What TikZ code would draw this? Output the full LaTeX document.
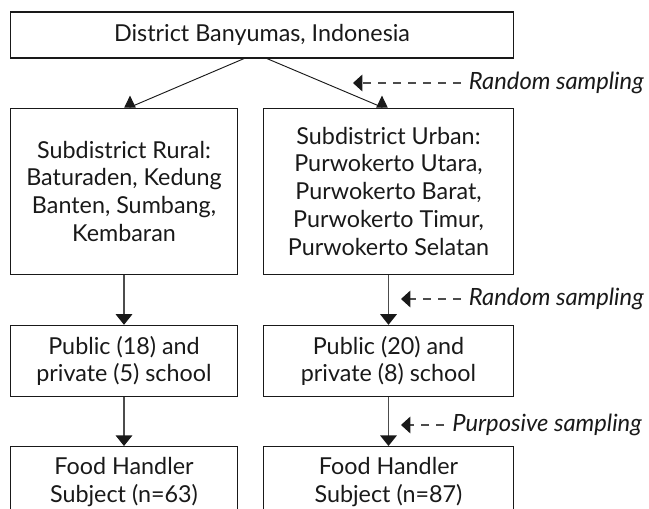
\documentclass[tikz,border=0pt]{standalone}
\usepackage{fontspec}
\setmainfont{Lato}
\usetikzlibrary{positioning}
\usetikzlibrary{arrows.meta}

\begin{document}
\begin{tikzpicture} [
    x=0.75pt, y=-0.75pt,
    every node/.style = {font=\fontsize{17.5}{20.8}\selectfont, text=black!90},
    box/.style = {draw=black!90, line width=0.9pt, align=center, inner sep=0pt},
    lcol/.style = {box, minimum width=170.25pt},
    rcol/.style = {box, minimum width=187.5pt},
    tall/.style = {minimum height=124.5pt},
    short/.style = {minimum height=53.25pt},
    note/.style = {inner sep=0pt, font=\fontsize{17.8}{21}\selectfont\itshape},
    flow/.style = {draw=black!70, line width=1pt, -{Triangle[length=8pt, width=12.5pt, color=black!90]}},
    split/.style = {draw=black!90, line width=0.7pt, -{Triangle[reversed, length=9pt, width=8.5pt]}},
    hint/.style = {draw=black!70, line width=1pt, dash pattern=on 6pt off 5.25pt, shorten <=6pt, -{Triangle[length=7pt, width=12.5pt, color=black!90]}}
    ]
    \clip (0,0) rectangle (649,509);

    \node[box, minimum width=377.25pt, minimum height=34.5pt] (district) at (262,35) {District Banyumas, Indonesia};
    \node[lcol, tall, below=36.75pt of district.south west, anchor=north west] (rural) {Subdistrict Rural:\\Baturaden, Kedung\\Banten, Sumbang,\\Kembaran};
    \node[rcol, tall, below=36.75pt of district.south east, anchor=north east] (urban) {Subdistrict Urban:\\Purwokerto Utara,\\Purwokerto Barat,\\Purwokerto Timur,\\Purwokerto Selatan};
    \node[lcol, short, below=37.5pt of rural] (schoolL) {Public (18) and\\private (5) school};
    \node[rcol, short, below=37.5pt of urban] (schoolR) {Public (20) and\\private (8) school};
    \node[lcol, short, below=36.75pt of schoolL] (foodL) {Food Handler\\Subject (n=63)};
    \node[rcol, short, below=36.75pt of schoolR] (foodR) {Food Handler\\Subject (n=87)};

    \draw[split] ([xshift=-13.5pt]district.south) -- ([xshift=4.5pt, yshift=0.3pt]rural.north) -- ([xshift=4.5pt]rural.north);
    \draw[split] ([xshift=3.75pt]district.south) -- ([xshift=-4.9pt, yshift=0.3pt]urban.north) -- ([xshift=-4.9pt]urban.north);
    \draw[flow] (rural) -- (schoolL);
    \draw[flow] (urban) -- (schoolR);
    \draw[flow] (schoolL) -- (foodL);
    \draw[flow] (schoolR) -- (foodR);

    % sampling notes
    \node[note, anchor=east] (rand1) at (644,83) {Random sampling};
    \node[note, anchor=east] (rand2) at (644,299) {Random sampling};
    \node[note, anchor=east] (purp) at (642,425) {Purposive sampling};
    \coordinate (tip1) at (353,83);
    \coordinate (tip2) at (401,299);
    \coordinate (tip3) at (401,425);
    \draw[hint] (rand1) -- (tip1);
    \draw[hint] (rand2) -- (tip2);
    \draw[hint] (purp) -- (tip3);
  \end{tikzpicture}
\end{document}
